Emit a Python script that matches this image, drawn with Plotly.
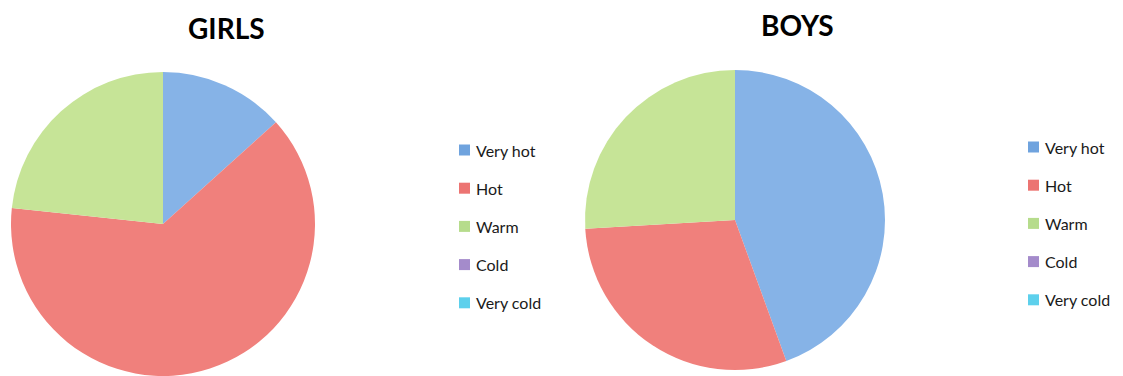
import plotly.graph_objects as go

W, H = 1123, 376

categories = ["Very hot", "Hot", "Warm", "Cold", "Very cold"]
girls_values = [4, 19, 7, 0, 0]
boys_values = [12, 8, 7, 0, 0]
titles = ["GIRLS", "BOYS"]

slice_colors = ["#86B3E7", "#F0807C", "#C6E497", "#A48BCB", "#5DD0EC"]
legend_colors = ["#6FA3DE", "#EC7472", "#B6DC8C", "#A48BCB", "#5DD0EC"]

FONT = "Lato"


def px(x):
    return x / W


def py(y):
    return 1 - y / H


fig = go.Figure()

# pie boxes in pixels: (left, top, right, bottom)
pie_boxes = [(11, 72, 315, 376), (585, 70, 885, 370)]
for vals, box, name in zip([girls_values, boys_values], pie_boxes, titles):
    l, t, r, b = box
    fig.add_trace(go.Pie(
        labels=categories, values=vals, name=name,
        sort=False, direction="clockwise", rotation=0,
        marker=dict(colors=slice_colors, line=dict(width=0)),
        textinfo="none", hoverinfo="label+value+percent",
        showlegend=False,
        domain=dict(x=[px(l), px(r)], y=[py(b), py(t)]),
    ))

annotations = []
shapes = []

# titles
title_pos = [(226, 28), (797, 25)]
for txt, (x, y) in zip(titles, title_pos):
    annotations.append(dict(
        text=f"<b>{txt}</b>", x=px(x), y=py(y), xref="paper", yref="paper",
        xanchor="center", yanchor="middle", showarrow=False,
        font=dict(family=FONT, size=28, color="#000000"),
    ))

# legends
legend_origins = [(459, 150), (1028, 147)]
row_gap = 38.2
for (lx, ly) in legend_origins:
    for i, (cat, col) in enumerate(zip(categories, legend_colors)):
        cy = ly + i * row_gap
        shapes.append(dict(
            type="rect", xref="paper", yref="paper",
            x0=px(lx), x1=px(lx + 11), y0=py(cy + 5.5), y1=py(cy - 5.5),
            fillcolor=col, line=dict(width=0),
        ))
        annotations.append(dict(
            text=cat, x=px(lx + 15), y=py(cy), xref="paper", yref="paper",
            xanchor="left", yanchor="middle", showarrow=False,
            font=dict(family=FONT, size=16, color="#1a1a1a"),
        ))

fig.update_layout(
    width=W, height=H,
    margin=dict(l=0, r=0, t=0, b=0),
    paper_bgcolor="white", plot_bgcolor="white",
    annotations=annotations, shapes=shapes,
    showlegend=False,
)

fig.write_html("out.html")
